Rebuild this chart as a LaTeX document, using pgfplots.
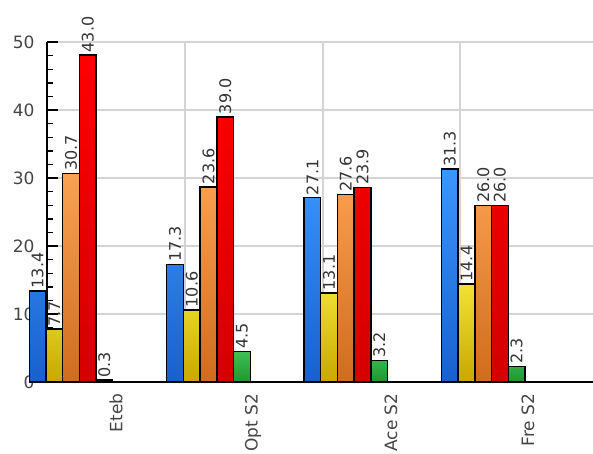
\documentclass[border=0pt]{standalone}
\usepackage{pgfplots}
\usepackage{pgfplotstable}
\pgfplotsset{compat=1.18}
\usepackage{fontspec}
\setmainfont{DejaVu Sans}

\definecolor{btop}{RGB}{60,150,252}
\definecolor{bbot}{RGB}{24,96,205}
\definecolor{ytop}{RGB}{242,226,52}
\definecolor{ybot}{RGB}{200,168,0}
\definecolor{otop}{RGB}{250,162,82}
\definecolor{obot}{RGB}{208,108,30}
\definecolor{rtop}{RGB}{255,0,0}
\definecolor{rbot}{RGB}{212,0,0}
\definecolor{gtop}{RGB}{64,192,84}
\definecolor{gbot}{RGB}{30,150,50}
\definecolor{gridgray}{RGB}{212,212,212}
\definecolor{ticktext}{RGB}{68,68,68}
\definecolor{valtext}{RGB}{51,51,51}

\pgfplotsset{
  shadedbar/.style 2 args={top color=#1, bottom color=#2, draw=black, line width=1.4pt},
  % invisible bars that only carry the value labels
  labelbar/.style={draw=none, fill=none, forget plot, nodes near coords},
}

% x = bar group centre, y = bar height, lab = printed value
\pgfplotstableread{
x y lab
71.0 13.4 13.4
208.5 17.3 17.3
345.8 27.1 27.1
483.2 31.3 31.3
}\sblue
\pgfplotstableread{
x y lab
71.0 7.8 7.7
208.5 10.6 10.6
345.8 13.1 13.1
483.2 14.4 14.4
}\syellow
\pgfplotstableread{
x y lab
71.0 30.7 30.7
208.5 28.7 23.6
345.8 27.6 27.6
483.2 26.0 26.0
}\sorange
\pgfplotstableread{
x y lab
71.0 48.1 43.0
208.5 39.0 39.0
345.8 28.6 23.9
483.2 26.0 26.0
}\sred
\pgfplotstableread{
x y lab
71.0 0.3 0.3
208.5 4.5 4.5
345.8 3.2 3.2
483.2 2.3 2.3
}\sgreen

\begin{document}
\begin{tikzpicture}
\begin{axis}[
    scale only axis,
    width=546pt,
    height=340pt,
    xmin=47, xmax=593,
    ymin=0, ymax=50,
    clip=false,
    ybar,
    bar width=16.7pt,
    axis x line*=bottom,
    axis y line*=left,
    axis line style={black, line width=1.4pt},
    tick align=inside,
    major tick length=11pt,
    minor tick length=6pt,
    tick style={black, line width=1.4pt},
    xtick={47,185,323,460},
    xticklabels={},
    extra x ticks={116,253,391,528},
    extra x tick labels={Eteb,Opt S2,Ace S2,Fre S2},
    extra x tick style={major tick length=0pt, grid=none},
    xticklabel style={rotate=90, anchor=east},
    xticklabel shift=8pt,
    ytick={0,10,...,50},
    minor y tick num=4,
    yticklabel shift=9pt,
    xmajorgrids, ymajorgrids,
    major grid style={gridgray, line width=1.3pt},
    ticklabel style={font=\fontsize{17}{19}\selectfont, text=ticktext},
    /pgf/number format/assume math mode=true,
    point meta=explicit symbolic,
    every node near coord/.append style={rotate=90, anchor=west,
        font=\fontsize{16}{19}\selectfont, text=valtext, inner sep=2.5pt},
]
\addplot[shadedbar={btop}{bbot}, bar shift=-33.4pt] table[x=x, y=y, meta=lab] {\sblue};
\addplot[shadedbar={ytop}{ybot}, bar shift=-16.7pt] table[x=x, y=y, meta=lab] {\syellow};
\addplot[shadedbar={otop}{obot}, bar shift=0pt] table[x=x, y=y, meta=lab] {\sorange};
\addplot[shadedbar={rtop}{rbot}, bar shift=16.7pt] table[x=x, y=y, meta=lab] {\sred};
\addplot[shadedbar={gtop}{gbot}, bar shift=33.4pt] table[x=x, y=y, meta=lab] {\sgreen};

\addplot[labelbar, bar shift=-33.4pt] table[x=x, y=y, meta=lab] {\sblue};
\addplot[labelbar, bar shift=-16.7pt] table[x=x, y=y, meta=lab] {\syellow};
\addplot[labelbar, bar shift=0pt] table[x=x, y=y, meta=lab] {\sorange};
\addplot[labelbar, bar shift=16.7pt] table[x=x, y=y, meta=lab] {\sred};
\addplot[labelbar, bar shift=33.4pt] table[x=x, y=y, meta=lab] {\sgreen};
\end{axis}
\pgfresetboundingbox
\path[use as bounding box] (-47pt,-71pt) rectangle (546pt,382pt);
\end{tikzpicture}
\end{document}
